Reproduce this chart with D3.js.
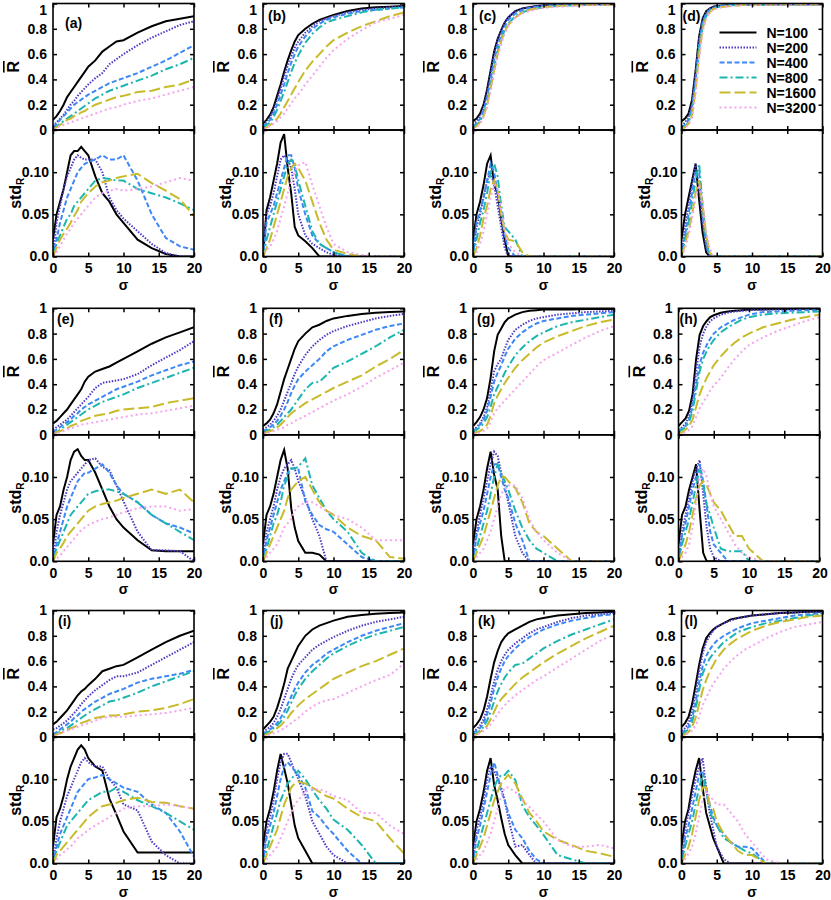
<!DOCTYPE html>
<html>
<head>
<meta charset="utf-8">
<script src="https://cdn.jsdelivr.net/npm/d3@7"></script>
<style>
  body { margin: 0; background: #fff; }
  svg text { font-family: 'Liberation Sans', Arial, Helvetica, sans-serif; font-weight: bold; font-size: 14px; fill: #000; }
</style>
</head>
<body>
<svg id="chart" width="831" height="900"></svg>
<script>
// sigma grid the curves were read at
const sigma = [0, 0.5, 1, 1.5, 2, 2.5, 3, 3.5, 4, 4.5, 5, 6, 7, 8, 9, 10, 12, 14, 16, 18, 20]

const seriesNames = ['N=100', 'N=200', 'N=400', 'N=800', 'N=1600', 'N=3200']
const panelLabels = ['(a)', '(b)', '(c)', '(d)', '(e)', '(f)', '(g)', '(h)', '(i)', '(j)', '(k)', '(l)']
const rTicks = [0, 0.2, 0.4, 0.6, 0.8, 1]
const stdTicks = [0, 0.05, 0.1]
const xTicks = [0, 5, 10, 15, 20]

// order in each panel: N=100, 200, 400, 800, 1600, 3200
const aR = [
  [0.08,0.11,0.15,0.2,0.26,0.3,0.34,0.38,0.42,0.46,0.5,0.55,0.62,0.66,0.7,0.71,0.77,0.82,0.86,0.88,0.9],
  [0.03,0.06,0.09,0.12,0.16,0.2,0.23,0.27,0.3,0.33,0.36,0.41,0.45,0.52,0.56,0.6,0.67,0.73,0.78,0.83,0.86],
  [0.02,0.05,0.08,0.11,0.14,0.17,0.2,0.22,0.24,0.26,0.28,0.31,0.34,0.37,0.39,0.41,0.45,0.5,0.55,0.61,0.67],
  [0.01,0.03,0.05,0.07,0.09,0.11,0.13,0.15,0.17,0.19,0.21,0.25,0.28,0.31,0.33,0.35,0.39,0.43,0.48,0.52,0.57],
  [0.01,0.02,0.04,0.06,0.08,0.09,0.11,0.12,0.14,0.15,0.17,0.2,0.22,0.24,0.26,0.27,0.3,0.31,0.34,0.36,0.4],
  [0.01,0.02,0.03,0.04,0.05,0.06,0.07,0.08,0.09,0.1,0.11,0.13,0.15,0.17,0.18,0.2,0.23,0.25,0.28,0.31,0.34]
]
const aStd = [
  [0.02,0.05,0.065,0.08,0.1,0.12,0.125,0.125,0.13,0.125,0.12,0.095,0.075,0.065,0.05,0.04,0.02,0.01,0.003,0,0],
  [0,0.04,0.06,0.08,0.095,0.105,0.115,0.12,0.117,0.115,0.115,0.115,0.1,0.07,0.055,0.045,0.03,0.015,0.004,0,0],
  [0,0.02,0.04,0.055,0.07,0.08,0.09,0.1,0.105,0.11,0.112,0.115,0.12,0.115,0.115,0.12,0.09,0.05,0.022,0.012,0.008],
  [0,0.015,0.025,0.035,0.045,0.05,0.06,0.065,0.07,0.075,0.08,0.09,0.093,0.092,0.09,0.09,0.08,0.075,0.07,0.063,0.055],
  [0,0.01,0.02,0.027,0.033,0.04,0.048,0.055,0.065,0.07,0.075,0.083,0.088,0.09,0.093,0.095,0.098,0.087,0.078,0.068,0.048],
  [0,0.005,0.012,0.02,0.027,0.033,0.04,0.045,0.05,0.055,0.06,0.07,0.075,0.078,0.08,0.078,0.08,0.083,0.088,0.093,0.09]
]

const bR = [
  [0.05,0.08,0.12,0.18,0.27,0.36,0.46,0.55,0.63,0.7,0.75,0.8,0.84,0.87,0.89,0.91,0.94,0.96,0.97,0.975,0.98],
  [0.04,0.07,0.1,0.16,0.24,0.33,0.42,0.51,0.58,0.65,0.7,0.77,0.82,0.86,0.88,0.9,0.93,0.95,0.96,0.97,0.98],
  [0.03,0.05,0.08,0.13,0.2,0.28,0.36,0.45,0.53,0.6,0.66,0.74,0.8,0.84,0.87,0.89,0.92,0.94,0.95,0.96,0.97],
  [0.02,0.04,0.06,0.1,0.16,0.23,0.3,0.38,0.46,0.53,0.59,0.69,0.76,0.81,0.85,0.87,0.9,0.93,0.95,0.96,0.97],
  [0.01,0.02,0.04,0.06,0.09,0.13,0.18,0.23,0.28,0.33,0.38,0.47,0.54,0.6,0.66,0.71,0.77,0.82,0.86,0.9,0.93],
  [0.01,0.02,0.03,0.05,0.07,0.1,0.13,0.17,0.21,0.25,0.28,0.36,0.43,0.5,0.57,0.63,0.72,0.79,0.85,0.88,0.91]
]
const bStd = [
  [0,0.055,0.07,0.09,0.11,0.135,0.145,0.105,0.075,0.035,0.025,0.018,0.01,0,0,0,0,0,0,0,0],
  [0,0.05,0.06,0.075,0.095,0.115,0.12,0.115,0.105,0.08,0.05,0.025,0.015,0.01,0.005,0.002,0,0,0,0,0],
  [0,0.04,0.05,0.06,0.075,0.09,0.105,0.12,0.12,0.105,0.08,0.05,0.025,0.015,0.01,0.005,0,0,0,0,0],
  [0,0.02,0.035,0.05,0.065,0.08,0.095,0.11,0.115,0.11,0.09,0.06,0.03,0.015,0.01,0.005,0,0,0,0,0],
  [0,0.01,0.02,0.035,0.05,0.065,0.08,0.095,0.105,0.11,0.105,0.09,0.065,0.04,0.02,0.008,0.003,0,0,0,0],
  [0.005,0.008,0.012,0.02,0.03,0.045,0.06,0.075,0.09,0.1,0.108,0.112,0.085,0.06,0.035,0.015,0.005,0.002,0,0,0]
]

const cR = [
  [0.07,0.09,0.13,0.2,0.32,0.47,0.62,0.72,0.79,0.85,0.89,0.94,0.96,0.97,0.98,0.985,0.99,0.99,0.995,0.995,0.995],
  [0.04,0.07,0.11,0.18,0.3,0.45,0.6,0.71,0.79,0.85,0.89,0.94,0.96,0.97,0.98,0.985,0.99,0.99,0.995,0.995,0.995],
  [0.03,0.05,0.09,0.15,0.26,0.4,0.55,0.67,0.75,0.82,0.87,0.92,0.95,0.965,0.975,0.98,0.99,0.99,0.99,0.995,0.995],
  [0.02,0.04,0.07,0.12,0.22,0.35,0.5,0.62,0.72,0.79,0.84,0.9,0.93,0.95,0.96,0.97,0.98,0.985,0.99,0.99,0.99],
  [0.01,0.03,0.06,0.11,0.2,0.33,0.47,0.6,0.7,0.78,0.83,0.89,0.93,0.95,0.96,0.97,0.98,0.985,0.99,0.99,0.99],
  [0.01,0.02,0.05,0.1,0.18,0.3,0.45,0.58,0.68,0.76,0.82,0.89,0.92,0.94,0.955,0.965,0.975,0.98,0.985,0.99,0.99]
]
const cStd = [
  [0.02,0.05,0.065,0.085,0.11,0.12,0.085,0.075,0.045,0.02,0,0,0,0,0,0,0,0,0,0,0],
  [0,0.035,0.05,0.07,0.09,0.1,0.085,0.06,0.035,0.01,0,0,0,0,0,0,0,0,0,0,0],
  [0,0.04,0.055,0.07,0.09,0.11,0.1,0.075,0.05,0.025,0.01,0,0,0,0,0,0,0,0,0,0],
  [0,0.02,0.04,0.055,0.075,0.1,0.11,0.095,0.06,0.035,0.03,0.02,0,0,0,0,0,0,0,0,0],
  [0,0.01,0.025,0.045,0.06,0.08,0.09,0.08,0.05,0.03,0.02,0.018,0.005,0,0,0,0,0,0,0,0],
  [0,0.005,0.015,0.03,0.05,0.07,0.085,0.08,0.055,0.03,0.015,0.005,0,0,0,0,0,0,0,0,0]
]

const dR = [
  [0.07,0.09,0.13,0.24,0.47,0.74,0.88,0.94,0.96,0.975,0.98,0.985,0.99,0.99,0.99,0.995,0.995,0.995,0.995,0.995,0.995],
  [0.03,0.06,0.1,0.21,0.45,0.73,0.87,0.93,0.96,0.97,0.98,0.985,0.99,0.99,0.99,0.995,0.995,0.995,0.995,0.995,0.995],
  [0.02,0.04,0.08,0.18,0.4,0.68,0.85,0.92,0.95,0.965,0.975,0.985,0.99,0.99,0.99,0.99,0.995,0.995,0.995,0.995,0.995],
  [0.02,0.03,0.06,0.15,0.36,0.64,0.82,0.9,0.94,0.96,0.97,0.98,0.985,0.99,0.99,0.99,0.99,0.995,0.995,0.995,0.995],
  [0.01,0.02,0.05,0.12,0.32,0.6,0.8,0.89,0.93,0.955,0.965,0.975,0.98,0.985,0.99,0.99,0.99,0.995,0.995,0.995,0.995],
  [0.01,0.02,0.04,0.1,0.28,0.56,0.78,0.88,0.93,0.95,0.96,0.975,0.98,0.985,0.99,0.99,0.99,0.99,0.995,0.995,0.995]
]
const dStd = [
  [0.02,0.05,0.07,0.09,0.11,0.067,0.028,0.005,0,0,0,0,0,0,0,0,0,0,0,0,0],
  [0,0.035,0.06,0.085,0.11,0.08,0.04,0.01,0,0,0,0,0,0,0,0,0,0,0,0,0],
  [0,0.025,0.05,0.075,0.1,0.1,0.05,0.015,0,0,0,0,0,0,0,0,0,0,0,0,0],
  [0,0.02,0.04,0.065,0.09,0.11,0.06,0.02,0,0,0,0,0,0,0,0,0,0,0,0,0],
  [0,0.015,0.03,0.05,0.075,0.09,0.06,0.025,0.005,0,0,0,0,0,0,0,0,0,0,0,0],
  [0,0.01,0.025,0.045,0.07,0.085,0.065,0.03,0.01,0,0,0,0,0,0,0,0,0,0,0,0]
]

const eR = [
  [0.09,0.11,0.14,0.17,0.2,0.24,0.28,0.32,0.36,0.42,0.46,0.5,0.52,0.54,0.57,0.6,0.66,0.72,0.77,0.81,0.85],
  [0.04,0.06,0.08,0.1,0.12,0.15,0.18,0.21,0.24,0.27,0.3,0.37,0.41,0.42,0.43,0.44,0.48,0.55,0.61,0.67,0.74],
  [0.02,0.04,0.06,0.08,0.1,0.12,0.15,0.17,0.2,0.22,0.24,0.27,0.3,0.33,0.36,0.38,0.42,0.47,0.51,0.55,0.58],
  [0.01,0.02,0.04,0.06,0.08,0.1,0.12,0.14,0.16,0.18,0.2,0.23,0.26,0.28,0.3,0.32,0.37,0.41,0.45,0.49,0.53],
  [0.01,0.02,0.03,0.04,0.05,0.07,0.08,0.09,0.11,0.12,0.13,0.15,0.16,0.17,0.19,0.2,0.21,0.22,0.25,0.27,0.29],
  [0.01,0.01,0.02,0.03,0.04,0.05,0.06,0.07,0.08,0.085,0.09,0.1,0.11,0.12,0.13,0.14,0.16,0.17,0.19,0.21,0.23]
]
const eStd = [
  [0.02,0.055,0.065,0.085,0.1,0.12,0.13,0.133,0.125,0.12,0.12,0.105,0.085,0.065,0.05,0.04,0.025,0.013,0.012,0.012,0.012],
  [0,0.035,0.055,0.07,0.085,0.095,0.1,0.105,0.11,0.115,0.12,0.122,0.112,0.108,0.09,0.071,0.035,0.013,0.013,0.012,0],
  [0,0.02,0.035,0.05,0.065,0.075,0.085,0.095,0.1,0.105,0.105,0.11,0.115,0.105,0.09,0.08,0.07,0.055,0.045,0.04,0.033],
  [0,0.015,0.025,0.035,0.045,0.055,0.06,0.065,0.07,0.075,0.08,0.083,0.085,0.085,0.083,0.08,0.07,0.055,0.045,0.035,0.025],
  [0,0.01,0.015,0.022,0.03,0.035,0.04,0.045,0.05,0.055,0.06,0.065,0.068,0.07,0.072,0.075,0.08,0.085,0.08,0.085,0.07],
  [0,0.003,0.007,0.012,0.017,0.022,0.027,0.032,0.037,0.04,0.043,0.047,0.05,0.052,0.055,0.058,0.063,0.065,0.065,0.06,0.062]
]

const fR = [
  [0.07,0.09,0.12,0.17,0.24,0.34,0.44,0.52,0.6,0.68,0.74,0.8,0.85,0.87,0.9,0.92,0.94,0.955,0.965,0.97,0.975],
  [0.04,0.06,0.08,0.11,0.15,0.2,0.27,0.34,0.41,0.48,0.54,0.63,0.7,0.75,0.79,0.82,0.86,0.89,0.92,0.94,0.955],
  [0.03,0.04,0.06,0.08,0.11,0.15,0.2,0.26,0.33,0.39,0.44,0.5,0.55,0.6,0.66,0.7,0.75,0.79,0.83,0.86,0.88],
  [0.02,0.03,0.04,0.06,0.08,0.11,0.14,0.17,0.2,0.24,0.28,0.36,0.41,0.42,0.47,0.53,0.58,0.64,0.7,0.77,0.83],
  [0.01,0.02,0.03,0.04,0.06,0.08,0.11,0.14,0.17,0.19,0.21,0.25,0.28,0.31,0.34,0.37,0.42,0.47,0.54,0.6,0.67],
  [0.01,0.01,0.02,0.03,0.04,0.05,0.06,0.08,0.09,0.11,0.12,0.15,0.18,0.21,0.24,0.27,0.32,0.38,0.45,0.51,0.57]
]
const fStd = [
  [0.02,0.055,0.065,0.08,0.1,0.12,0.132,0.11,0.063,0.04,0.024,0.01,0.01,0.008,0,0,0,0,0,0,0],
  [0,0.035,0.05,0.065,0.085,0.1,0.11,0.115,0.12,0.11,0.095,0.075,0.05,0.03,0,0,0,0,0,0,0],
  [0,0.025,0.04,0.055,0.07,0.085,0.095,0.105,0.11,0.11,0.11,0.071,0.055,0.043,0.038,0.035,0.02,0.005,0,0,0],
  [0,0.015,0.03,0.045,0.055,0.07,0.09,0.1,0.11,0.11,0.112,0.122,0.09,0.075,0.06,0.05,0.035,0.01,0,0,0],
  [0,0.01,0.02,0.03,0.04,0.05,0.06,0.075,0.085,0.09,0.095,0.1,0.085,0.07,0.06,0.055,0.04,0.03,0.025,0.005,0.003],
  [0,0.005,0.01,0.015,0.02,0.03,0.04,0.045,0.05,0.06,0.065,0.07,0.07,0.065,0.06,0.055,0.05,0.04,0.025,0.025,0.025]
]

const gR = [
  [0.07,0.1,0.14,0.2,0.29,0.45,0.66,0.79,0.84,0.89,0.92,0.95,0.97,0.98,0.985,0.99,0.99,0.99,0.995,0.995,0.995],
  [0.04,0.06,0.09,0.14,0.22,0.35,0.5,0.56,0.6,0.68,0.75,0.83,0.87,0.9,0.92,0.93,0.95,0.96,0.97,0.975,0.98],
  [0.03,0.05,0.08,0.12,0.19,0.3,0.42,0.49,0.55,0.62,0.68,0.76,0.81,0.85,0.88,0.9,0.92,0.94,0.95,0.96,0.97],
  [0.02,0.04,0.06,0.09,0.14,0.22,0.32,0.38,0.43,0.49,0.54,0.63,0.69,0.74,0.78,0.81,0.86,0.89,0.91,0.93,0.95],
  [0.01,0.02,0.03,0.05,0.08,0.15,0.25,0.31,0.36,0.41,0.45,0.53,0.59,0.64,0.69,0.73,0.78,0.82,0.86,0.89,0.91],
  [0.01,0.01,0.02,0.03,0.05,0.1,0.17,0.21,0.24,0.27,0.3,0.36,0.42,0.48,0.54,0.59,0.65,0.71,0.77,0.82,0.86]
]
const gStd = [
  [0.02,0.05,0.065,0.085,0.11,0.13,0.103,0.085,0.03,0,0,0,0,0,0,0,0,0,0,0,0],
  [0,0.035,0.055,0.075,0.095,0.115,0.13,0.125,0.105,0.09,0.07,0.03,0.01,0,0,0,0,0,0,0,0],
  [0,0.03,0.045,0.06,0.08,0.1,0.115,0.115,0.1,0.085,0.075,0.045,0.025,0,0,0,0,0,0,0,0],
  [0,0.015,0.03,0.045,0.06,0.08,0.1,0.115,0.105,0.095,0.085,0.06,0.04,0.025,0.015,0.01,0,0,0,0,0],
  [0,0.01,0.02,0.03,0.045,0.06,0.075,0.09,0.1,0.1,0.095,0.087,0.07,0.045,0.035,0.03,0.015,0,0,0,0],
  [0,0.005,0.01,0.015,0.025,0.035,0.05,0.065,0.08,0.085,0.09,0.09,0.075,0.05,0.035,0.025,0.01,0,0,0,0]
]

const hR = [
  [0.07,0.1,0.13,0.19,0.32,0.6,0.79,0.86,0.9,0.93,0.945,0.965,0.975,0.98,0.985,0.99,0.99,0.995,0.995,0.995,0.995],
  [0.04,0.06,0.09,0.15,0.27,0.5,0.7,0.8,0.86,0.9,0.92,0.95,0.965,0.975,0.98,0.985,0.99,0.99,0.99,0.995,0.995],
  [0.03,0.05,0.07,0.12,0.22,0.4,0.56,0.65,0.71,0.76,0.8,0.85,0.88,0.91,0.93,0.95,0.97,0.975,0.98,0.985,0.985],
  [0.02,0.04,0.06,0.1,0.19,0.35,0.5,0.6,0.66,0.71,0.75,0.81,0.85,0.88,0.91,0.93,0.95,0.96,0.965,0.97,0.975],
  [0.01,0.02,0.04,0.07,0.12,0.22,0.32,0.39,0.45,0.5,0.55,0.62,0.68,0.73,0.77,0.8,0.85,0.88,0.91,0.93,0.95],
  [0.01,0.01,0.02,0.04,0.07,0.14,0.21,0.26,0.3,0.35,0.39,0.45,0.53,0.6,0.66,0.71,0.77,0.82,0.86,0.9,0.93]
]
const hStd = [
  [0.02,0.055,0.065,0.085,0.1,0.115,0.06,0.01,0,0,0,0,0,0,0,0,0,0,0,0,0],
  [0,0.035,0.055,0.075,0.095,0.11,0.12,0.08,0.04,0.015,0.005,0,0,0,0,0,0,0,0,0,0],
  [0,0.03,0.045,0.065,0.085,0.1,0.115,0.095,0.065,0.035,0.02,0.01,0,0,0,0,0,0,0,0,0],
  [0,0.02,0.035,0.05,0.07,0.09,0.11,0.09,0.067,0.055,0.04,0.015,0.012,0.012,0.012,0,0,0,0,0,0],
  [0,0.01,0.02,0.035,0.055,0.075,0.09,0.095,0.09,0.08,0.07,0.06,0.045,0.03,0.03,0.015,0,0,0,0,0],
  [0,0.005,0.01,0.02,0.04,0.07,0.1,0.11,0.1,0.08,0.065,0.05,0.035,0.02,0.01,0.005,0,0,0,0,0]
]

const iR = [
  [0.1,0.12,0.15,0.18,0.21,0.25,0.29,0.33,0.36,0.38,0.41,0.46,0.52,0.54,0.56,0.57,0.63,0.69,0.75,0.8,0.84],
  [0.06,0.07,0.09,0.11,0.13,0.16,0.19,0.22,0.26,0.29,0.32,0.37,0.41,0.45,0.48,0.48,0.51,0.57,0.63,0.69,0.75],
  [0.02,0.04,0.06,0.08,0.1,0.12,0.15,0.17,0.2,0.22,0.24,0.28,0.31,0.34,0.36,0.38,0.43,0.46,0.48,0.5,0.53],
  [0.01,0.03,0.04,0.06,0.07,0.09,0.11,0.13,0.15,0.17,0.19,0.22,0.25,0.28,0.29,0.31,0.35,0.4,0.44,0.48,0.52],
  [0.01,0.02,0.03,0.04,0.05,0.07,0.08,0.09,0.11,0.12,0.13,0.15,0.16,0.17,0.17,0.18,0.2,0.21,0.23,0.26,0.3],
  [0.01,0.02,0.03,0.04,0.05,0.06,0.07,0.08,0.09,0.1,0.11,0.13,0.15,0.16,0.16,0.16,0.17,0.18,0.19,0.21,0.23]
]
const iStd = [
  [0.02,0.055,0.065,0.08,0.1,0.115,0.125,0.135,0.14,0.135,0.125,0.115,0.11,0.077,0.058,0.038,0.013,0.013,0.013,0.013,0.013],
  [0,0.03,0.05,0.065,0.08,0.09,0.1,0.11,0.12,0.125,0.12,0.115,0.115,0.1,0.09,0.07,0.063,0.026,0.01,0,0],
  [0,0.02,0.035,0.045,0.055,0.065,0.075,0.085,0.09,0.095,0.1,0.102,0.105,0.1,0.095,0.09,0.085,0.07,0.06,0.038,0.008],
  [0,0.015,0.025,0.035,0.045,0.05,0.055,0.06,0.065,0.07,0.075,0.08,0.085,0.085,0.09,0.085,0.075,0.068,0.06,0.05,0.04],
  [0,0.01,0.015,0.02,0.025,0.03,0.035,0.04,0.045,0.05,0.055,0.062,0.068,0.07,0.072,0.075,0.078,0.073,0.072,0.068,0.065],
  [0,0.005,0.01,0.013,0.017,0.02,0.025,0.03,0.033,0.036,0.04,0.045,0.05,0.055,0.06,0.065,0.068,0.068,0.07,0.068,0.065]
]

const jR = [
  [0.06,0.09,0.12,0.16,0.23,0.32,0.42,0.54,0.6,0.66,0.72,0.8,0.85,0.88,0.9,0.92,0.95,0.965,0.975,0.98,0.985],
  [0.04,0.06,0.08,0.11,0.16,0.22,0.3,0.38,0.46,0.52,0.57,0.63,0.69,0.73,0.76,0.79,0.84,0.88,0.91,0.93,0.95],
  [0.03,0.04,0.06,0.08,0.11,0.15,0.2,0.26,0.32,0.38,0.43,0.51,0.57,0.61,0.66,0.69,0.75,0.8,0.84,0.87,0.9],
  [0.02,0.03,0.05,0.07,0.09,0.12,0.16,0.21,0.27,0.33,0.38,0.46,0.52,0.57,0.62,0.66,0.72,0.77,0.81,0.84,0.87],
  [0.01,0.02,0.03,0.05,0.07,0.09,0.12,0.15,0.19,0.22,0.25,0.3,0.34,0.38,0.42,0.46,0.51,0.56,0.6,0.65,0.7],
  [0.01,0.01,0.02,0.03,0.04,0.05,0.07,0.09,0.11,0.13,0.15,0.2,0.24,0.27,0.29,0.3,0.35,0.4,0.45,0.49,0.58]
]
const jStd = [
  [0.02,0.05,0.065,0.085,0.11,0.13,0.113,0.095,0.07,0.045,0.03,0.015,0,0,0,0,0,0,0,0,0],
  [0,0.04,0.055,0.075,0.1,0.12,0.13,0.13,0.12,0.11,0.1,0.08,0.05,0.035,0.02,0.01,0,0,0,0,0],
  [0,0.03,0.045,0.06,0.08,0.1,0.115,0.12,0.115,0.11,0.105,0.09,0.062,0.055,0.044,0.035,0.015,0,0,0,0],
  [0,0.015,0.03,0.045,0.06,0.075,0.085,0.095,0.1,0.105,0.11,0.1,0.087,0.075,0.065,0.052,0.04,0.022,0,0,0],
  [0,0.01,0.02,0.03,0.04,0.055,0.07,0.08,0.09,0.095,0.097,0.095,0.09,0.085,0.08,0.077,0.065,0.055,0.05,0.03,0.012],
  [0,0.005,0.01,0.015,0.02,0.03,0.04,0.05,0.06,0.07,0.075,0.085,0.088,0.088,0.085,0.08,0.075,0.06,0.06,0.045,0.035]
]

const kR = [
  [0.07,0.1,0.14,0.21,0.32,0.46,0.59,0.68,0.75,0.79,0.82,0.85,0.88,0.91,0.93,0.94,0.96,0.97,0.98,0.985,0.99],
  [0.04,0.06,0.09,0.14,0.22,0.32,0.44,0.53,0.6,0.65,0.69,0.74,0.78,0.82,0.85,0.87,0.91,0.94,0.96,0.97,0.98],
  [0.03,0.05,0.07,0.11,0.18,0.27,0.38,0.47,0.54,0.6,0.64,0.7,0.75,0.79,0.82,0.85,0.89,0.92,0.94,0.96,0.97],
  [0.02,0.03,0.05,0.08,0.13,0.2,0.28,0.36,0.42,0.47,0.51,0.57,0.58,0.62,0.66,0.7,0.76,0.81,0.85,0.89,0.93],
  [0.01,0.02,0.04,0.06,0.09,0.14,0.2,0.26,0.3,0.33,0.36,0.42,0.47,0.51,0.55,0.59,0.66,0.72,0.78,0.83,0.88],
  [0.01,0.02,0.03,0.05,0.07,0.1,0.14,0.18,0.22,0.25,0.28,0.33,0.37,0.41,0.45,0.48,0.55,0.62,0.69,0.76,0.81]
]
const kStd = [
  [0.02,0.05,0.065,0.085,0.11,0.125,0.093,0.075,0.054,0.035,0.022,0.01,0,0,0,0,0,0,0,0,0],
  [0,0.04,0.055,0.075,0.1,0.115,0.11,0.1,0.09,0.075,0.054,0.02,0.022,0.01,0,0,0,0,0,0,0],
  [0,0.03,0.045,0.065,0.085,0.105,0.12,0.105,0.085,0.075,0.06,0.04,0.03,0.015,0.005,0,0,0,0,0,0],
  [0,0.015,0.03,0.045,0.06,0.075,0.09,0.1,0.105,0.105,0.11,0.099,0.069,0.055,0.045,0.034,0.01,0.005,0,0,0],
  [0,0.01,0.02,0.03,0.045,0.06,0.075,0.085,0.095,0.1,0.105,0.095,0.077,0.06,0.05,0.038,0.028,0.022,0.015,0.012,0.008],
  [0,0.005,0.01,0.015,0.025,0.035,0.05,0.065,0.08,0.09,0.09,0.085,0.075,0.067,0.058,0.05,0.028,0.02,0.02,0.022,0.018]
]

const lR = [
  [0.08,0.11,0.16,0.26,0.41,0.57,0.7,0.78,0.82,0.85,0.87,0.9,0.93,0.94,0.95,0.96,0.97,0.98,0.985,0.99,0.99],
  [0.05,0.07,0.11,0.2,0.34,0.52,0.66,0.75,0.8,0.84,0.87,0.9,0.92,0.94,0.95,0.96,0.97,0.98,0.985,0.99,0.99],
  [0.03,0.05,0.08,0.15,0.27,0.43,0.56,0.64,0.69,0.73,0.76,0.8,0.83,0.86,0.88,0.9,0.92,0.94,0.96,0.97,0.98],
  [0.02,0.04,0.06,0.12,0.22,0.37,0.5,0.57,0.62,0.66,0.69,0.75,0.79,0.83,0.85,0.87,0.9,0.92,0.94,0.96,0.97],
  [0.01,0.02,0.04,0.08,0.15,0.26,0.37,0.45,0.52,0.57,0.62,0.69,0.74,0.78,0.81,0.84,0.88,0.91,0.93,0.95,0.96],
  [0.01,0.02,0.03,0.05,0.09,0.16,0.25,0.31,0.37,0.42,0.46,0.54,0.6,0.65,0.69,0.72,0.78,0.83,0.87,0.89,0.91]
]
const lStd = [
  [0.02,0.05,0.065,0.09,0.11,0.125,0.09,0.06,0.045,0.03,0.02,0,0,0,0,0,0,0,0,0,0],
  [0,0.04,0.06,0.08,0.1,0.115,0.125,0.09,0.06,0.04,0.02,0.005,0,0,0,0,0,0,0,0,0],
  [0,0.03,0.045,0.065,0.085,0.105,0.11,0.09,0.07,0.055,0.045,0.035,0.025,0.02,0.02,0.018,0,0,0,0,0],
  [0,0.02,0.035,0.05,0.07,0.09,0.105,0.085,0.065,0.05,0.045,0.03,0.025,0.02,0.015,0.012,0,0,0,0,0],
  [0,0.01,0.02,0.035,0.055,0.075,0.09,0.09,0.07,0.065,0.05,0.035,0.025,0.015,0.01,0.01,0,0,0,0,0],
  [0,0.005,0.012,0.02,0.035,0.055,0.075,0.085,0.08,0.075,0.07,0.07,0.06,0.05,0.035,0.025,0.005,0,0,0,0]
]

const panels = [
  { R: aR, std: aStd }, { R: bR, std: bStd }, { R: cR, std: cStd }, { R: dR, std: dStd },
  { R: eR, std: eStd }, { R: fR, std: fStd }, { R: gR, std: gStd }, { R: hR, std: hStd },
  { R: iR, std: iStd }, { R: jR, std: jStd }, { R: kR, std: kStd }, { R: lR, std: lStd }
]

// styles
const colors = ['#000000', '#4b3bc4', '#3d88f5', '#1db5b0', '#c9ba2b', '#f4a4ee']
const dashes = [null, '1.5,1.5', '5,2.5', '8,3,2,3', '11,4', '2,3']

// layout
const colLeft = [53, 263, 473, 681.5]
const rowTop = [3.5, 308.3, 610.5]
const plotW = 141
const plotH = 126.5
const tick = 4
const labelDx = [12, 5, 6, 1, 4, 6, 4, 1, 5, 7, 5, 3]
const labelDy = [24, 17, 17, 17, 16, 16, 16, 16, 15, 15, 15, 15]

const svg = d3.select('#chart')
const defs = svg.append('defs')

const x = d3.scaleLinear().domain([0, 20]).range([0, plotW])
const yR = d3.scaleLinear().domain([0, 1]).range([plotH, 0])
const yS = d3.scaleLinear().domain([0, 0.15]).range([2 * plotH, plotH])

const lineR = d3.line().x((d, i) => x(sigma[i])).y(d => yR(d))
const lineS = d3.line().x((d, i) => x(sigma[i])).y(d => yS(d))

const fmtR = d => (d === 0 || d === 1) ? String(d) : d.toFixed(1)
const fmtS = d => d === 0 ? '0.0' : d.toFixed(2)

panels.forEach((p, k) => {
  const row = Math.floor(k / 4)
  const col = k % 4
  const left = colLeft[col] + (row === 1 && col === 3 ? -3 : 0)
  const top = rowTop[row]
  const g = svg.append('g').attr('transform', `translate(${left},${top})`)

  defs.append('clipPath').attr('id', `cr${k}`)
    .append('rect').attr('x', 0).attr('y', 0).attr('width', plotW).attr('height', plotH)
  defs.append('clipPath').attr('id', `cs${k}`)
    .append('rect').attr('x', 0).attr('y', plotH).attr('width', plotW).attr('height', plotH)

  const gR = g.append('g').attr('clip-path', `url(#cr${k})`)
  const gS = g.append('g').attr('clip-path', `url(#cs${k})`)

  p.R.forEach((vals, j) => {
    gR.append('path').attr('d', lineR(vals))
      .attr('fill', 'none').attr('stroke', colors[j]).attr('stroke-width', 2)
      .attr('stroke-dasharray', dashes[j])
  })
  p.std.forEach((vals, j) => {
    gS.append('path').attr('d', lineS(vals))
      .attr('fill', 'none').attr('stroke', colors[j]).attr('stroke-width', 2)
      .attr('stroke-dasharray', dashes[j])
  })

  // axes, ticks pointing inward
  const ax = (sel, axis) => {
    const a = sel.call(axis)
    a.select('.domain').remove()
    a.selectAll('.tick line').attr('stroke', '#000').attr('stroke-width', 1.5)
    return a
  }
  const left1 = ax(g.append('g'), d3.axisLeft(yR).tickValues(rTicks).tickSize(-tick).tickPadding(6).tickFormat(fmtR))
  // top row: keep the "1" label inside the page
  if (row === 0) left1.selectAll('.tick text').filter(d => d === 1).attr('dy', '0.75em')
  ax(g.append('g').attr('transform', `translate(${plotW},0)`), d3.axisRight(yR).tickValues(rTicks).tickSize(-tick).tickFormat(''))
  ax(g.append('g'), d3.axisTop(x).tickValues(xTicks).tickSize(-tick).tickFormat(''))
  ax(g.append('g').attr('transform', `translate(0,${plotH})`), d3.axisBottom(x).tickValues(xTicks).tickSize(-tick).tickFormat(''))

  ax(g.append('g'), d3.axisLeft(yS).tickValues(stdTicks).tickSize(-tick).tickPadding(4).tickFormat(fmtS))
  ax(g.append('g').attr('transform', `translate(${plotW},0)`), d3.axisRight(yS).tickValues(stdTicks).tickSize(-tick).tickFormat(''))
  ax(g.append('g').attr('transform', `translate(0,${plotH})`), d3.axisTop(x).tickValues(xTicks).tickSize(-tick).tickFormat(''))
  ax(g.append('g').attr('transform', `translate(0,${2 * plotH})`), d3.axisBottom(x).tickValues(xTicks).tickSize(-tick).tickPadding(7).tickFormat(d3.format('d')))

  // frames
  g.append('rect').attr('width', plotW).attr('height', plotH)
    .attr('fill', 'none').attr('stroke', '#000').attr('stroke-width', 1.6)
  g.append('rect').attr('y', plotH).attr('width', plotW).attr('height', plotH)
    .attr('fill', 'none').attr('stroke', '#000').attr('stroke-width', 1.6)

  // axis titles
  g.append('text')
    .attr('transform', `translate(-40,${plotH / 2}) rotate(-90)`)
    .attr('text-anchor', 'middle').attr('dominant-baseline', 'central')
    .style('font-size', '16px')
    .append('tspan').style('text-decoration', 'overline').text('R')

  const st = g.append('text')
    .attr('transform', `translate(-38,${plotH * 1.5}) rotate(-90)`)
    .attr('text-anchor', 'middle').attr('dominant-baseline', 'central')
    .style('font-size', '16px')
  st.append('tspan').text('std')
  st.append('tspan').attr('baseline-shift', 'sub').style('font-size', '10px').text('R')

  g.append('text')
    .attr('x', plotW / 2).attr('y', 2 * plotH + 33)
    .attr('text-anchor', 'middle')
    .text('σ')

  g.append('text')
    .attr('x', labelDx[k]).attr('y', labelDy[k])
    .text(panelLabels[k])

  // legend sits in panel (d)
  if (k === 3) {
    const lg = g.append('g').attr('transform', 'translate(38,29)')
    seriesNames.forEach((name, j) => {
      const item = lg.append('g').attr('transform', `translate(0,${j * 15})`)
      item.append('line').attr('x1', 0).attr('x2', 37).attr('y1', 0).attr('y2', 0)
        .attr('stroke', colors[j]).attr('stroke-width', 2).attr('stroke-dasharray', dashes[j])
      item.append('text').attr('x', 47).attr('y', 0).attr('dominant-baseline', 'central').text(name)
    })
  }
})
</script>
</body>
</html>
